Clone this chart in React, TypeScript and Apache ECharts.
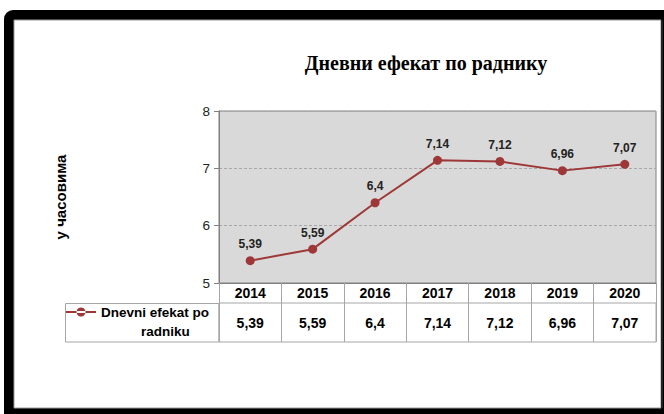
import React, { useEffect, useRef } from "react";
import * as echarts from "echarts";

const years = ["2014", "2015", "2016", "2017", "2018", "2019", "2020"];
const values = [5.39, 5.59, 6.4, 7.14, 7.12, 6.96, 7.07];
const yTicks = { min: 5, max: 8, interval: 1 };
const seriesName = "Dnevni efekat po radniku";
const titleText = "Дневни ефекат по раднику";
const yAxisName = "у часовима";

const fmt = (v: number) => String(v).replace(".", ",");

const SANS = "Liberation Sans, Arial, sans-serif";
const SERIF = "Liberation Serif, Times New Roman, serif";
const LINE = "#9e3838";
const TABLE = "#a6a6a6";

export default function App() {
  const ref = useRef<HTMLDivElement>(null);
  useEffect(() => {
    if (!ref.current) return;
    const chart = echarts.init(ref.current, null, { renderer: "svg" });
    chart.setOption({
      animation: false,
      textStyle: { fontFamily: SANS },
      title: {
        text: titleText,
        left: 426,
        top: 53,
        padding: 0,
        textAlign: "center",
        textStyle: { fontFamily: SERIF, fontSize: 20, fontWeight: "bold", color: "#000" },
      },
      graphic: [
        { type: "rect", z: -100, shape: { x: 4, y: 10, width: 720, height: 420, r: 9 }, style: { fill: "#000" } },
        { type: "rect", z: -99, shape: { x: 14, y: 20, width: 647, height: 388 }, style: { fill: "#fff", stroke: "#9a9a9a", lineWidth: 1 } },
        { type: "rect", z: -98, shape: { x: 661, y: 20, width: 2, height: 388 }, style: { fill: "#222" } },
        { type: "rect", z: 1, shape: { x: 65.5, y: 303.5, width: 153.5, height: 38.5 }, style: { fill: "none", stroke: TABLE, lineWidth: 1 } },
      ],
      legend: {
        left: 66,
        top: 305,
        itemWidth: 30,
        itemHeight: 16,
        itemGap: 0,
        padding: 0,
        data: [{ name: seriesName, icon: "path://M0,7h30v2h-30z M15,3.5a4.5,4.5 0 1,0 0.01,0z" }],
        formatter: () => "{a|Dnevni efekat po}\n{b|radniku}",
        textStyle: {
          padding: [19, 0, 0, 0],
          rich: {
            a: { fontFamily: SANS, fontSize: 13.5, fontWeight: "bold", color: "#000", lineHeight: 19, align: "left" },
            b: { fontFamily: SANS, fontSize: 13.5, fontWeight: "bold", color: "#000", lineHeight: 19, align: "left", padding: [0, 0, 0, 40] },
          },
        },
      },
      grid: [
        { left: 219, right: 8, top: 111, bottom: 131, show: true, backgroundColor: "#d9d9d9", borderColor: "#808080", borderWidth: 1 },
        { left: 219, right: 8, top: 303, bottom: 72, show: true, backgroundColor: "transparent", borderColor: TABLE, borderWidth: 1 },
      ],
      xAxis: [
        {
          type: "category",
          gridIndex: 0,
          data: years,
          boundaryGap: true,
          axisLine: { show: true, lineStyle: { color: "#808080", width: 1 } },
          axisTick: { show: true, length: 20, lineStyle: { color: TABLE } },
          axisLabel: { margin: 10, verticalAlign: "middle", fontSize: 14, fontWeight: "bold", color: "#000", fontFamily: SANS },
          splitLine: { show: false },
        },
        {
          type: "category",
          gridIndex: 1,
          position: "top",
          data: values.map(fmt),
          boundaryGap: true,
          axisLine: { show: false },
          axisTick: { show: false },
          axisLabel: { inside: true, margin: 20, verticalAlign: "middle", fontSize: 14, fontWeight: "bold", color: "#000", fontFamily: SANS },
          splitLine: { show: true, lineStyle: { color: TABLE, width: 1 } },
        },
      ],
      yAxis: [
        {
          type: "value",
          gridIndex: 0,
          min: yTicks.min,
          max: yTicks.max,
          interval: yTicks.interval,
          name: yAxisName,
          nameLocation: "middle",
          nameRotate: 90,
          nameGap: 151,
          nameTextStyle: { fontSize: 15, fontWeight: "bold", color: "#000", fontFamily: SANS },
          axisLine: { show: true, lineStyle: { color: "#808080" } },
          axisTick: { show: true, length: 5, lineStyle: { color: "#808080" } },
          axisLabel: { margin: 9, fontSize: 13.5, color: "#222", fontFamily: SANS },
          splitLine: { show: true, lineStyle: { type: [3, 2], color: "#a8a8a8", width: 1 } },
        },
        { type: "value", gridIndex: 1, show: false, min: 0, max: 1 },
      ],
      series: [
        {
          name: seriesName,
          type: "line",
          xAxisIndex: 0,
          yAxisIndex: 0,
          data: values,
          symbol: "circle",
          symbolSize: 9,
          itemStyle: { color: LINE },
          lineStyle: { color: LINE, width: 2 },
          label: {
            show: true,
            position: "top",
            distance: 6,
            formatter: (p: any) => fmt(p.value),
            fontSize: 12,
            fontWeight: "bold",
            color: "#222",
            fontFamily: SANS,
          },
        },
      ],
    });
    return () => chart.dispose();
  }, []);
  return <div ref={ref} style={{ position: "absolute", left: 0, top: 0, width: 664, height: 414 }} />;
}
